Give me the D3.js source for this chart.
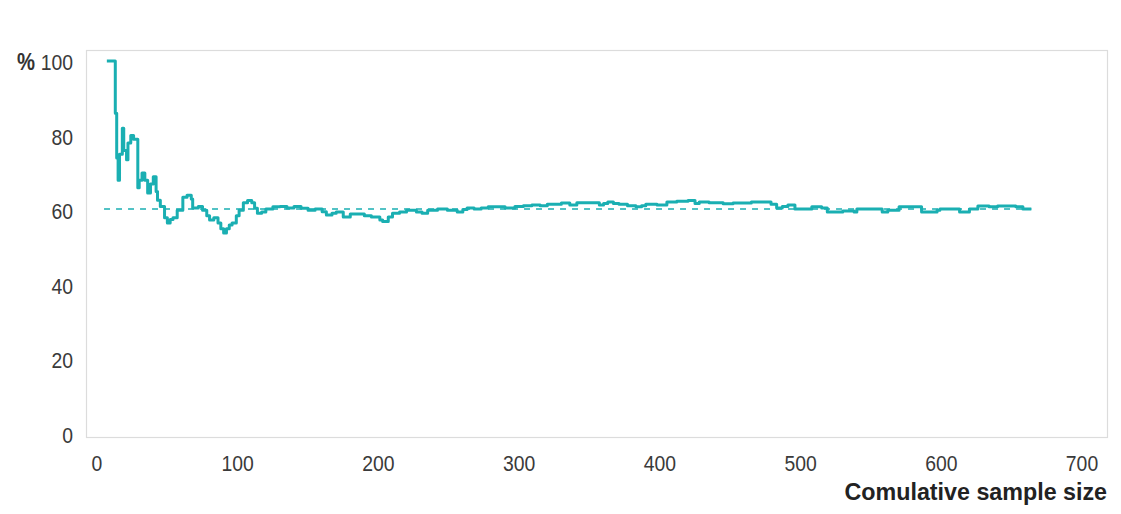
<!DOCTYPE html>
<html><head><meta charset="utf-8">
<script src="https://cdn.jsdelivr.net/npm/d3@7"></script>
<style>
body{margin:0;background:#fff;}
svg{display:block;}
text{font-family:"Liberation Sans",Arial,sans-serif;}
</style></head>
<body><svg id="c" width="1121" height="514"></svg>
<script>
const sampleSize = [7,13,14,15,16,18,19,21,22,24,26,29,30,32,34,36,38,40,42,43,45,48,50,52,54,57,61,64,67,68,72,75,78,80,83,86,88,90,92,94,96,99,101,104,107,110,112,114,117,120,125,130,135,140,145,150,155,160,163,167,170,175,180,185,190,195,201,203,207,210,215,220,227,231,235,242,249,256,260,263,268,273,278,283,290,297,303,309,315,320,325,330,336,341,350,357,360,363,367,371,377,383,387,390,398,405,412,420,425,428,435,441,445,452,460,465,472,479,483,487,491,496,503,508,515,519,525,530,538,540,548,556,558,562,570,578,585,586,594,597,599,606,613,620,626,634,640,647,653,658,664];
const cumulativePct = [100,86,74,68,75,82,76,73.5,78,80,79,66,68,70,68,64.6,67,69,65,62.7,61,58,56.6,57.5,58,60,63.5,64,63,60.6,61,60,58.5,57.4,58,56.6,55,53.9,55,56,56.6,58.5,60,62,62.6,62,60.5,59.2,59.5,60.3,60.9,61,60.6,61,60.5,60,60.3,59.6,58.7,59.2,59.5,58.2,59,59,58.5,58.2,57.4,57,58.2,59.2,59.5,60,59.5,59.2,60,60.3,60,59.5,60.2,60.6,60.3,60.6,60.9,60.9,60.6,61,61.2,61.4,61.2,61.6,61.6,61.9,61.4,62,62,61.4,61.8,62.2,61.8,61.6,61.2,60.9,61.2,61.6,61.4,62.2,62.4,62.6,61.8,62.2,62,62,61.7,61.9,61.9,62.2,62.2,61.6,60.6,61,61.4,60.3,60.3,60.9,60.6,59.5,59.5,59.8,59.5,60.3,60.3,60.3,59.5,60,60.9,60.9,60.9,59.5,59.5,60,60.3,60.3,59.5,60.3,61.1,60.9,61.1,61.1,60.9,60.3,60.3];
const overallPct = 60.3;
const refStart = 5, refEnd = 664;
const xTicks = [0,100,200,300,400,500,600,700];
const yTicks = [0,20,40,60,80,100];
const xLabel = "Comulative sample size";

const svg = d3.select("#c");
const L=86,R=1108,T=50,B=438;
const x = d3.scaleLinear().domain([0,700]).range([97,1082]);
const y = d3.scaleLinear().domain([0,100]).range([434,61]);
const teal = "#1aafb2";
const SX = 0.88;

svg.append("rect").attr("x",L+0.5).attr("y",T+0.5).attr("width",R-L-1).attr("height",B-T-1)
  .attr("fill","none").attr("stroke","#dcdcdc").attr("stroke-width",1.2);

function label(px,py,anchor){
  return svg.append("text").attr("transform",`translate(${px},${py}) scale(${SX},1)`)
    .attr("dy","0.36em").attr("text-anchor",anchor).attr("font-size",22).attr("fill","#3a3a3a");
}
yTicks.forEach(t=>{
  const tx = label(73,y(t)+1,"end");
  if(t===100){
    tx.append("tspan").attr("font-weight","bold").attr("font-size",23).attr("fill","#333").text("% ");
  }
  tx.append("tspan").text(t);
});
xTicks.forEach(t=>{ label(x(t),463,"middle").text(t); });
svg.append("text").attr("transform",`translate(1107,491) scale(0.97,1)`).attr("dy","0.36em").attr("text-anchor","end")
  .attr("font-size",24).attr("font-weight","bold").attr("fill","#222").text(xLabel);

svg.append("line").attr("x1",x(refStart)).attr("x2",x(refEnd)).attr("y1",y(overallPct)).attr("y2",y(overallPct))
  .attr("stroke",teal).attr("stroke-width",1.5).attr("stroke-dasharray","6,6");

const data = sampleSize.map((n,i)=>[n,cumulativePct[i]]);
svg.append("path").datum(data)
  .attr("d",d3.line().x(d=>x(d[0])).y(d=>y(d[1])).curve(d3.curveStepAfter))
  .attr("fill","none").attr("stroke",teal).attr("stroke-width",3).attr("stroke-linejoin","round");
</script></body></html>
